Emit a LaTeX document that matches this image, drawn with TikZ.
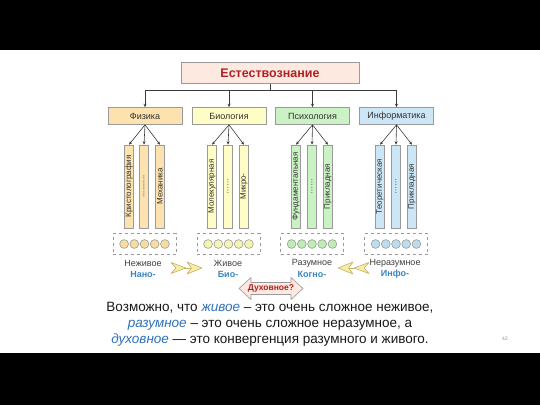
\documentclass[tikz,border=0pt]{standalone}
\usepackage{fontspec}
\setmainfont{Liberation Sans}
\usetikzlibrary{arrows.meta,calc}
\definecolor{titlefill}{HTML}{FDE9DF}
\definecolor{darkred}{HTML}{B02025}
\definecolor{fizfill}{HTML}{FBE2AE}
\definecolor{biofill}{HTML}{FEFDC6}
\definecolor{psyfill}{HTML}{CBF2C4}
\definecolor{inffill}{HTML}{CDE6F5}
\definecolor{fizcirc}{HTML}{F7DC9E}
\definecolor{biocirc}{HTML}{F7F4B0}
\definecolor{psycirc}{HTML}{BDEDB3}
\definecolor{infcirc}{HTML}{BCDDF0}
\definecolor{bordergray}{HTML}{9A9A9A}
\definecolor{linegray}{HTML}{3A3A3A}
\definecolor{labelblue}{HTML}{3A86C0}
\definecolor{italblue}{HTML}{2F72B8}
\definecolor{chevfill}{HTML}{F7EEA6}
\definecolor{chevdraw}{HTML}{C5AE62}
\begin{document}
\begin{tikzpicture}[x=1pt,y=-1pt,
  catbox/.style={draw=bordergray,line width=0.6pt,minimum width=74pt,minimum height=17pt,inner sep=0pt,font=\fontsize{9}{10}\selectfont,text=black!80},
  barbox/.style={draw=bordergray,line width=0.6pt,minimum width=9pt,minimum height=83pt,inner sep=0pt,font=\fontsize{8}{9}\selectfont,text=black!80},
  dashbox/.style={draw=bordergray,dashed,line width=0.7pt,minimum width=63pt,minimum height=21pt,inner sep=0pt},
  dot/.style={circle,draw=bordergray,line width=0.6pt,minimum size=8.8pt,inner sep=0pt},
  conn/.style={draw=linegray,line width=0.6pt,-{Stealth[length=3.5pt,width=3pt]}},
  kindlbl/.style={font=\fontsize{9}{10}\selectfont,text=black!75,inner sep=0pt},
  prefixlbl/.style={font=\bfseries\fontsize{9}{10}\selectfont,text=labelblue,inner sep=0pt},
  chev/.style={fill=chevfill,draw=chevdraw,line width=0.6pt,line join=round}
]
\useasboundingbox (0,0) rectangle (540,405);
\fill[white] (0,0) rectangle (540,405);
\fill[black] (0,0) rectangle (540,50);
\fill[black] (0,353) rectangle (540,405);

% title
\node[draw=bordergray,fill=titlefill,line width=0.6pt,minimum width=178pt,minimum height=21pt,inner sep=0pt,
  font=\bfseries\fontsize{12.5}{14}\selectfont,text=darkred] (title) at (270,73) {Естествознание};

% categories
\node[catbox,fill=fizfill] (fiz) at (145,116) {Физика};
\node[catbox,fill=biofill] (bio) at (229,116) {Биология};
\node[catbox,fill=psyfill] (psy) at (312.5,116) {Психология};
\node[catbox,fill=inffill] (inf) at (396.5,116) {Информатика};

\foreach \n in {fiz,bio,psy,inf}{
  \draw[conn] (title.south) -- ++(0,6) -| (\n.north);
}

% bars
\node[barbox,fill=fizfill] (fiz1) at (129,186.5) {\rotatebox{90}{Кристолография}};
\node[barbox,fill=fizfill] (fiz2) at (144,186.5) {\rotatebox{90}{..........}};
\node[barbox,fill=fizfill] (fiz3) at (160,186.5) {\rotatebox{90}{Механика}};
\node[barbox,fill=biofill] (bio1) at (212,186.5) {\rotatebox{90}{Молекулярная}};
\node[barbox,fill=biofill] (bio2) at (228,186.5) {\rotatebox{90}{……}};
\node[barbox,fill=biofill] (bio3) at (244,186.5) {\rotatebox{90}{Микро-}};
\node[barbox,fill=psyfill] (psy1) at (296,186.5) {\rotatebox{90}{Фундаментальная}};
\node[barbox,fill=psyfill] (psy2) at (312,186.5) {\rotatebox{90}{……}};
\node[barbox,fill=psyfill] (psy3) at (328,186.5) {\rotatebox{90}{Прикладная}};
\node[barbox,fill=inffill] (inf1) at (380,186.5) {\rotatebox{90}{Теоретическая}};
\node[barbox,fill=inffill] (inf2) at (396,186.5) {\rotatebox{90}{……}};
\node[barbox,fill=inffill] (inf3) at (412,186.5) {\rotatebox{90}{Прикладная}};

\foreach \n in {fiz,bio,psy,inf}{
  \foreach \k in {1,2,3}{
    \draw[conn] (\n.south) -- (\n\k.north);
  }
}

% dashed boxes with circles
\node[dashbox] (fizd) at (144.5,244) {};
\node[dashbox] (biod) at (228.5,244) {};
\node[dashbox] (psyd) at (312,244) {};
\node[dashbox] (infd) at (396,244) {};
\foreach \n/\c in {fiz/fizcirc,bio/biocirc,psy/psycirc,inf/infcirc}{
  \foreach \i in {-2,-1,0,1,2}{
    \node[dot,fill=\c] (\n c\i) at ($(\n d)+(\i*10.2,0)$) {};
  }
}

% kind labels
\node[kindlbl] (l1) at (143,263) {Неживое};
\node[prefixlbl] (p1) at (143,274) {Нано-};
\node[kindlbl] (l2) at (228,263) {Живое};
\node[prefixlbl] (p2) at (228,274) {Био-};
\node[kindlbl] (l3) at (312,263) {Разумное};
\node[prefixlbl] (p3) at (312,274) {Когно-};
\node[kindlbl] (l4) at (395,263) {Неразумное};
\node[prefixlbl] (p4) at (395,274) {Инфо-};

% chevron arrows
\draw[chev] (178,268) -- (191,268);
\draw[chev] (171,262.5) -- (186,268) -- (171,273.5) -- (176,268) -- cycle;
\draw[chev] (187,262) -- (202,268) -- (187,274) -- (191.5,268) -- cycle;
\draw[chev] (349,268) -- (362,268);
\draw[chev] (369,262.5) -- (354,268) -- (369,273.5) -- (364,268) -- cycle;
\draw[chev] (353,262) -- (338,268) -- (353,274) -- (348.5,268) -- cycle;

% spiritual double arrow
\draw[fill=titlefill,draw=bordergray,line width=0.6pt,line join=round]
  (239,288.5) -- (251,277.5) -- (251,282.5) -- (291,282.5) -- (291,277.5) -- (303,288.5)
  -- (291,299.5) -- (291,294.5) -- (251,294.5) -- (251,299.5) -- cycle;
\node[font=\bfseries\fontsize{8.5}{10}\selectfont,text=darkred,inner sep=0pt] (duh) at (271,288.5) {Духовное?};

% main text
\node[align=center,font=\fontsize{13.5}{16}\selectfont,text=black!90,inner sep=0pt,anchor=north] (txt) at (270,302.5)
  {Возможно, что {\color{italblue}\itshape живое} – это очень сложное неживое,\\
   {\color{italblue}\itshape разумное} – это очень сложное неразумное, а\\
   {\color{italblue}\itshape духовное} — это конвергенция разумного и живого.};

\node[font=\fontsize{5}{6}\selectfont,text=black!45,inner sep=0pt] (pg) at (505,339) {42};
\end{tikzpicture}
\end{document}
